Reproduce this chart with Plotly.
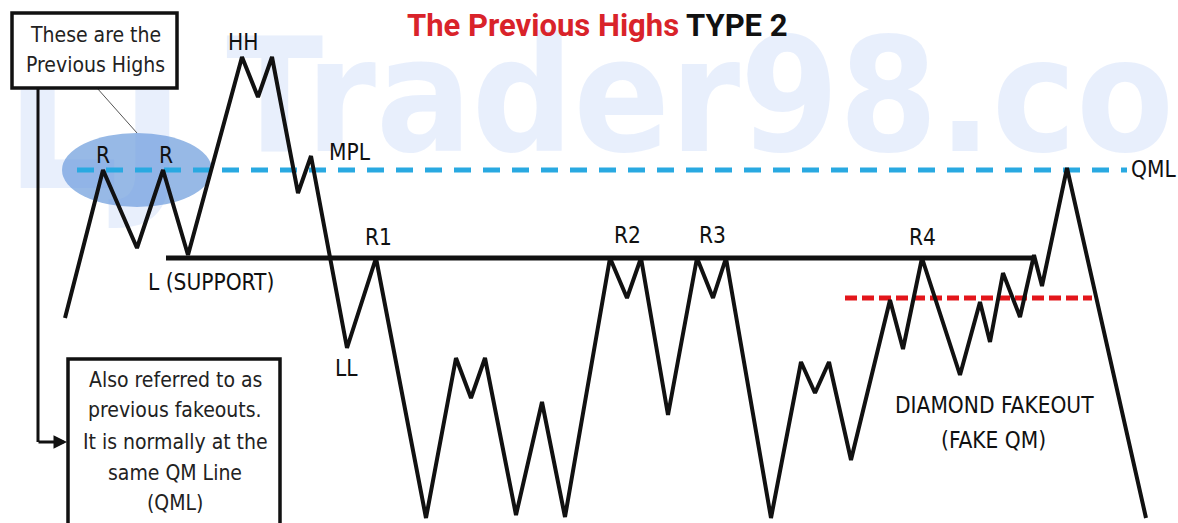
import plotly.graph_objects as go

# ---- data (time on x, price on y) ----
time = [65, 103, 137, 163, 188, 242, 258, 272, 298, 311, 347, 376, 426, 456, 471, 485,
        516, 542, 565, 610, 627, 641, 668, 697, 713, 726, 771, 801, 815, 829, 851, 890,
        903, 922, 960, 980, 990, 1003, 1020, 1034, 1042, 1067, 1146]
price = [205, 353, 275, 353, 268, 466, 426, 466, 330, 367, 175, 265, 5, 165, 125, 165,
         8, 121, 6, 265, 225, 265, 108, 265, 225, 265, 5, 161, 130, 161, 63, 223,
         174, 265, 148, 221, 181, 250, 206, 268, 237, 355, 5]

support_level = 265
qml_level = 353
fake_qm_level = 225

label_text = ["R", "R", "HH", "MPL", "R1", "L (SUPPORT)", "LL", "R2", "R3", "R4", "QML",
              "DIAMOND FAKEOUT", "(FAKE QM)"]
label_x = [103, 166, 243, 350, 378, 211, 346, 627, 712, 922, 1153, 994, 993]
label_y = [368, 368, 481, 371, 286, 241, 155, 288, 288, 286, 354, 118, 83]

title_red = "The Previous Highs"
title_black = "TYPE 2"
note_top_lines = ["These are the", "Previous Highs"]
note_top_y = [488, 458]
note_bottom_lines = ["Also referred to as", "previous fakeouts.", "It is normally at the",
                     "same QM Line", "(QML)"]
note_bottom_y = [143, 113, 81, 50, 20]

NARROW = "Liberation Sans Narrow, Arial Narrow, DejaVu Sans Condensed, sans-serif"

fig = go.Figure()

# watermark (drawn first so it sits beneath everything)
fig.add_trace(go.Scatter(
    x=[700, 95], y=[412, 385], mode="text", text=["Trader98.co", "LJ"],
    textposition="middle center",
    textfont=dict(family=NARROW, size=[158, 200], color="rgba(120,160,235,0.17)",
                  weight="bold"),
    hoverinfo="skip", showlegend=False))

# QML (cyan dashed)
fig.add_trace(go.Scatter(x=[77, 1127], y=[qml_level, qml_level], mode="lines",
                         line=dict(color="#29a9e1", width=5, dash="17px,12px"),
                         hoverinfo="skip", showlegend=False))
# fake QM (red dashed)
fig.add_trace(go.Scatter(x=[845, 1092], y=[fake_qm_level, fake_qm_level], mode="lines",
                         line=dict(color="#e3161b", width=5, dash="12px,5px"),
                         hoverinfo="skip", showlegend=False))
# support line
fig.add_trace(go.Scatter(x=[166, 1034], y=[support_level, support_level], mode="lines",
                         line=dict(color="#111111", width=5),
                         hoverinfo="skip", showlegend=False))
# price path
fig.add_trace(go.Scatter(x=time, y=price, mode="lines",
                         line=dict(color="#111111", width=4),
                         hoverinfo="skip", showlegend=False))

shapes = [
    # highlight ellipse round the previous highs
    dict(type="circle", xref="x", yref="y", x0=62, x1=212, y0=316, y1=390,
         fillcolor="#97b9e6", line=dict(width=0), layer="below"),
    # pointer from the note to the ellipse
    dict(type="line", xref="x", yref="y", x0=97, y0=435, x1=137, y1=390,
         line=dict(color="#555555", width=1), layer="above"),
    # top note box
    dict(type="rect", xref="x", yref="y", x0=12, x1=177, y0=435, y1=510,
         fillcolor="white", line=dict(color="#111111", width=3.5), layer="above"),
    # bottom note box
    dict(type="rect", xref="x", yref="y", x0=68, x1=280, y0=-10, y1=164,
         fillcolor="white", line=dict(color="#111111", width=3.5), layer="above"),
    # vertical connector
    dict(type="line", xref="x", yref="y", x0=38, y0=435, x1=38, y1=81,
         line=dict(color="#111111", width=3), layer="above"),
]

annotations = []
# elbow arrow into the bottom box
annotations.append(dict(x=67, y=81, ax=37, ay=81, xref="x", yref="y", axref="x", ayref="y",
                        text="", showarrow=True, arrowhead=2, arrowsize=0.9,
                        arrowwidth=3, arrowcolor="#111111"))

for t, x, y in zip(label_text, label_x, label_y):
    annotations.append(dict(x=x, y=y, xref="x", yref="y", text=t, showarrow=False,
                            font=dict(family=NARROW, size=22.5, color="#111111")))

for t, y in zip(note_top_lines, note_top_y):
    annotations.append(dict(x=95, y=y, xref="x", yref="y", text=t, showarrow=False,
                            font=dict(family=NARROW, size=21, color="#222222")))
for t, y in zip(note_bottom_lines, note_bottom_y):
    annotations.append(dict(x=175, y=y, xref="x", yref="y", text=t, showarrow=False,
                            font=dict(family=NARROW, size=21, color="#222222")))

annotations.append(dict(
    x=597, y=498, xref="x", yref="y", showarrow=False,
    text=f"<b><span style='color:#d9232a'>{title_red}</span> {title_black}</b>",
    font=dict(family="Roboto, sans-serif", size=31, color="#111111")))

fig.update_layout(
    width=1178, height=523, margin=dict(l=0, r=0, t=0, b=0),
    paper_bgcolor="white", plot_bgcolor="white",
    xaxis=dict(range=[0, 1178], visible=False, fixedrange=True),
    yaxis=dict(range=[0, 523], visible=False, fixedrange=True),
    shapes=shapes, annotations=annotations, showlegend=False,
)

fig.write_html("out.html", config={"displayModeBar": False},
               post_script="document.body.style.margin='0';document.body.style.padding='0';")
